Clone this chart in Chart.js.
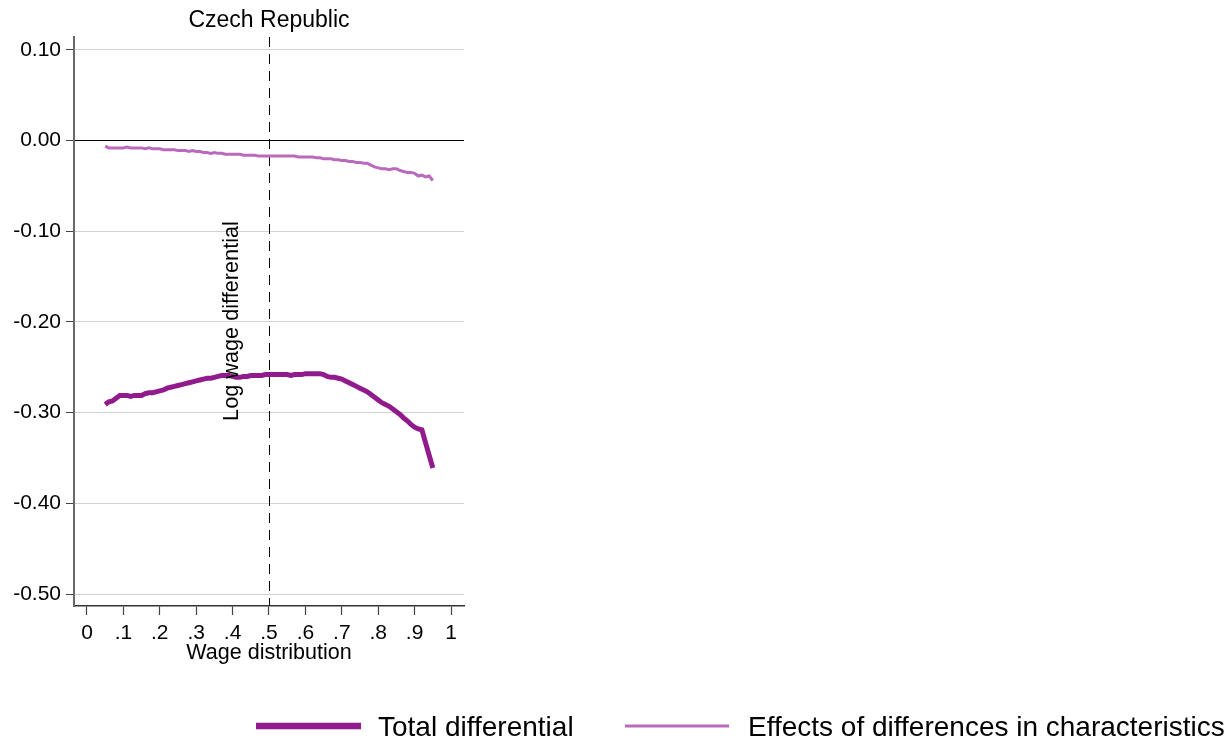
<!DOCTYPE html>
<html>
<head>
<meta charset="utf-8">
<title>Czech Republic – wage differential</title>
<script src="https://cdn.jsdelivr.net/npm/chart.js@4/dist/chart.umd.min.js"></script>
<style>
  html, body { margin: 0; padding: 0; background: #ffffff; }
  canvas { display: block; }
</style>
</head>
<body>
<canvas id="chart" width="1230" height="741"></canvas>
<script>
// Quantiles of the wage distribution
const quantiles = [
  0.05, 0.06, 0.07, 0.08, 0.09, 0.10, 0.11, 0.12, 0.13, 0.14,
  0.15, 0.16, 0.17, 0.18, 0.19, 0.20, 0.21, 0.22, 0.23, 0.24,
  0.25, 0.26, 0.27, 0.28, 0.29, 0.30, 0.31, 0.32, 0.33, 0.34,
  0.35, 0.36, 0.37, 0.38, 0.39, 0.40, 0.41, 0.42, 0.43, 0.44,
  0.45, 0.46, 0.47, 0.48, 0.49, 0.50, 0.51, 0.52, 0.53, 0.54,
  0.55, 0.56, 0.57, 0.58, 0.59, 0.60, 0.61, 0.62, 0.63, 0.64,
  0.65, 0.66, 0.67, 0.68, 0.69, 0.70, 0.71, 0.72, 0.73, 0.74,
  0.75, 0.76, 0.77, 0.78, 0.79, 0.80, 0.81, 0.82, 0.83, 0.84,
  0.85, 0.86, 0.87, 0.88, 0.89, 0.90, 0.91, 0.92, 0.93, 0.94,
  0.95
];

// Total log wage differential at each quantile
const totalDifferential = [
  -0.291, -0.288, -0.287, -0.284, -0.281, -0.281, -0.281, -0.282, -0.281, -0.281,
  -0.281, -0.279, -0.278, -0.278, -0.277, -0.276, -0.275, -0.273, -0.272, -0.271,
  -0.270, -0.269, -0.268, -0.267, -0.266, -0.265, -0.264, -0.263, -0.262, -0.262,
  -0.261, -0.260, -0.259, -0.259, -0.259, -0.260, -0.261, -0.261, -0.260, -0.260,
  -0.259, -0.259, -0.259, -0.259, -0.258, -0.258, -0.258, -0.258, -0.258, -0.258,
  -0.258, -0.259, -0.258, -0.258, -0.258, -0.257, -0.257, -0.257, -0.257, -0.257,
  -0.258, -0.260, -0.261, -0.261, -0.262, -0.263, -0.265, -0.267, -0.269, -0.271,
  -0.273, -0.275, -0.277, -0.280, -0.283, -0.286, -0.289, -0.291, -0.293, -0.296,
  -0.299, -0.302, -0.306, -0.309, -0.313, -0.316, -0.318, -0.319, -0.333, -0.347,
  -0.361
];

// Part of the differential explained by differences in characteristics
const characteristicsEffect = [
  -0.006, -0.008, -0.008, -0.008, -0.008, -0.008, -0.007, -0.008, -0.008, -0.008,
  -0.008, -0.009, -0.008, -0.009, -0.009, -0.009, -0.010, -0.010, -0.010, -0.010,
  -0.011, -0.011, -0.011, -0.012, -0.011, -0.012, -0.012, -0.013, -0.013, -0.014,
  -0.013, -0.014, -0.014, -0.015, -0.015, -0.015, -0.015, -0.015, -0.016, -0.016,
  -0.016, -0.016, -0.017, -0.017, -0.017, -0.017, -0.017, -0.017, -0.017, -0.017,
  -0.017, -0.017, -0.017, -0.018, -0.018, -0.018, -0.018, -0.018, -0.019, -0.019,
  -0.020, -0.020, -0.020, -0.021, -0.021, -0.022, -0.022, -0.023, -0.023, -0.024,
  -0.024, -0.025, -0.025, -0.027, -0.029, -0.030, -0.031, -0.031, -0.032, -0.031,
  -0.031, -0.033, -0.034, -0.035, -0.035, -0.036, -0.039, -0.038, -0.040, -0.039,
  -0.044
];

// Axis ticks
const xTickValues = [0, 0.1, 0.2, 0.3, 0.4, 0.5, 0.6, 0.7, 0.8, 0.9, 1];
const xTickLabels = ['0', '.1', '.2', '.3', '.4', '.5', '.6', '.7', '.8', '.9', '1'];
const yTickValues = [0.1, 0, -0.1, -0.2, -0.3, -0.4, -0.5];
const yTickLabels = ['0.10', '0.00', '-0.10', '-0.20', '-0.30', '-0.40', '-0.50'];

const seriesNames = ['Total differential', 'Effects of differences in characteristics'];
const seriesColors = ['#911b8d', '#b96abd'];
const medianLine = 0.5;

const FONT = '"Liberation Sans", Arial, Helvetica, sans-serif';

function toPoints(values) {
  return values.map((v, i) => ({ x: quantiles[i], y: v }));
}

// Title, axis titles, median marker and legend
const decorations = {
  id: 'decorations',
  beforeDatasetsDraw(chart) {
    const { ctx, chartArea, scales } = chart;
    const x = Math.round(scales.x.getPixelForValue(medianLine)) + 0.5;
    ctx.save();
    ctx.strokeStyle = '#000000';
    ctx.lineWidth = 1;
    ctx.setLineDash([10, 7]);
    ctx.beginPath();
    ctx.moveTo(x, chartArea.top);
    ctx.lineTo(x, chartArea.bottom);
    ctx.stroke();
    ctx.restore();
  },
  afterDraw(chart) {
    const { ctx, chartArea } = chart;
    const cx = (chartArea.left + chartArea.right) / 2;
    ctx.save();
    ctx.fillStyle = '#000000';

    // chart title
    ctx.font = '23px ' + FONT;
    ctx.textAlign = 'center';
    ctx.textBaseline = 'middle';
    ctx.fillText('Czech Republic', cx, 21);

    // x axis title
    ctx.font = '21.5px ' + FONT;
    ctx.fillText('Wage distribution', cx, 653);

    // y axis title
    ctx.save();
    ctx.translate(238, 321);
    ctx.rotate(-Math.PI / 2);
    ctx.font = '21.7px ' + FONT;
    ctx.textBaseline = 'alphabetic';
    ctx.fillText('Log wage differential', 0, 0);
    ctx.restore();

    // legend
    const legendY = 726;
    const items = [
      { x0: 256, x1: 361, tx: 378, width: 6.5 },
      { x0: 625, x1: 729, tx: 748, width: 3 }
    ];
    items.forEach((it, i) => {
      ctx.strokeStyle = seriesColors[i];
      ctx.lineWidth = it.width;
      ctx.lineCap = 'butt';
      ctx.beginPath();
      ctx.moveTo(it.x0, legendY);
      ctx.lineTo(it.x1, legendY);
      ctx.stroke();
      ctx.font = '28px ' + FONT;
      ctx.textAlign = 'left';
      ctx.textBaseline = 'middle';
      ctx.fillStyle = '#000000';
      ctx.fillText(seriesNames[i], it.tx, legendY + 2);
    });
    ctx.restore();
  }
};

new Chart(document.getElementById('chart'), {
  type: 'line',
  data: {
    datasets: [
      {
        label: seriesNames[0],
        data: toPoints(totalDifferential),
        borderColor: seriesColors[0],
        borderWidth: 5,
        pointRadius: 0,
        tension: 0,
        fill: false
      },
      {
        label: seriesNames[1],
        data: toPoints(characteristicsEffect),
        borderColor: seriesColors[1],
        borderWidth: 3,
        pointRadius: 0,
        tension: 0,
        fill: false
      }
    ]
  },
  options: {
    responsive: false,
    devicePixelRatio: 1,
    animation: false,
    layout: { padding: { left: 0, top: 37, right: 766, bottom: 0 } },
    plugins: {
      legend: { display: false },
      title: { display: false },
      tooltip: { enabled: false }
    },
    scales: {
      x: {
        type: 'linear',
        position: 'bottom',
        min: -0.0357,
        max: 1.0357,
        afterBuildTicks(scale) {
          scale.ticks = xTickValues.map(v => ({ value: v }));
        },
        afterFit(scale) { scale.height = 135; },
        ticks: {
          autoSkip: false,
          maxRotation: 0,
          padding: 6,
          color: '#000000',
          font: { family: FONT, size: 21 },
          callback(value) {
            const i = xTickValues.findIndex(v => Math.abs(v - value) < 1e-9);
            return i >= 0 ? xTickLabels[i] : '';
          }
        },
        grid: {
          drawOnChartArea: false,
          drawTicks: true,
          tickLength: 9,
          tickColor: '#444444',
          tickWidth: 1.2
        },
        border: { display: true, color: '#333333', width: 1.5 }
      },
      y: {
        type: 'linear',
        position: 'left',
        min: -0.5132,
        max: 0.1143,
        afterBuildTicks(scale) {
          scale.ticks = yTickValues.map(v => ({ value: v }));
        },
        afterFit(scale) { scale.width = 74; },
        ticks: {
          autoSkip: false,
          padding: 5,
          color: '#000000',
          font: { family: FONT, size: 21 },
          callback(value) {
            const i = yTickValues.findIndex(v => Math.abs(v - value) < 1e-9);
            return i >= 0 ? yTickLabels[i] : '';
          }
        },
        grid: {
          drawOnChartArea: true,
          drawTicks: true,
          tickLength: 8,
          lineWidth: 1,
          color(ctx) {
            return ctx.tick && Math.abs(ctx.tick.value) < 1e-9 ? '#000000' : '#d2d2d2';
          },
          tickColor: '#444444'
        },
        border: { display: true, color: '#6a6a6a', width: 2 }
      }
    }
  },
  plugins: [decorations]
});
</script>
</body>
</html>
